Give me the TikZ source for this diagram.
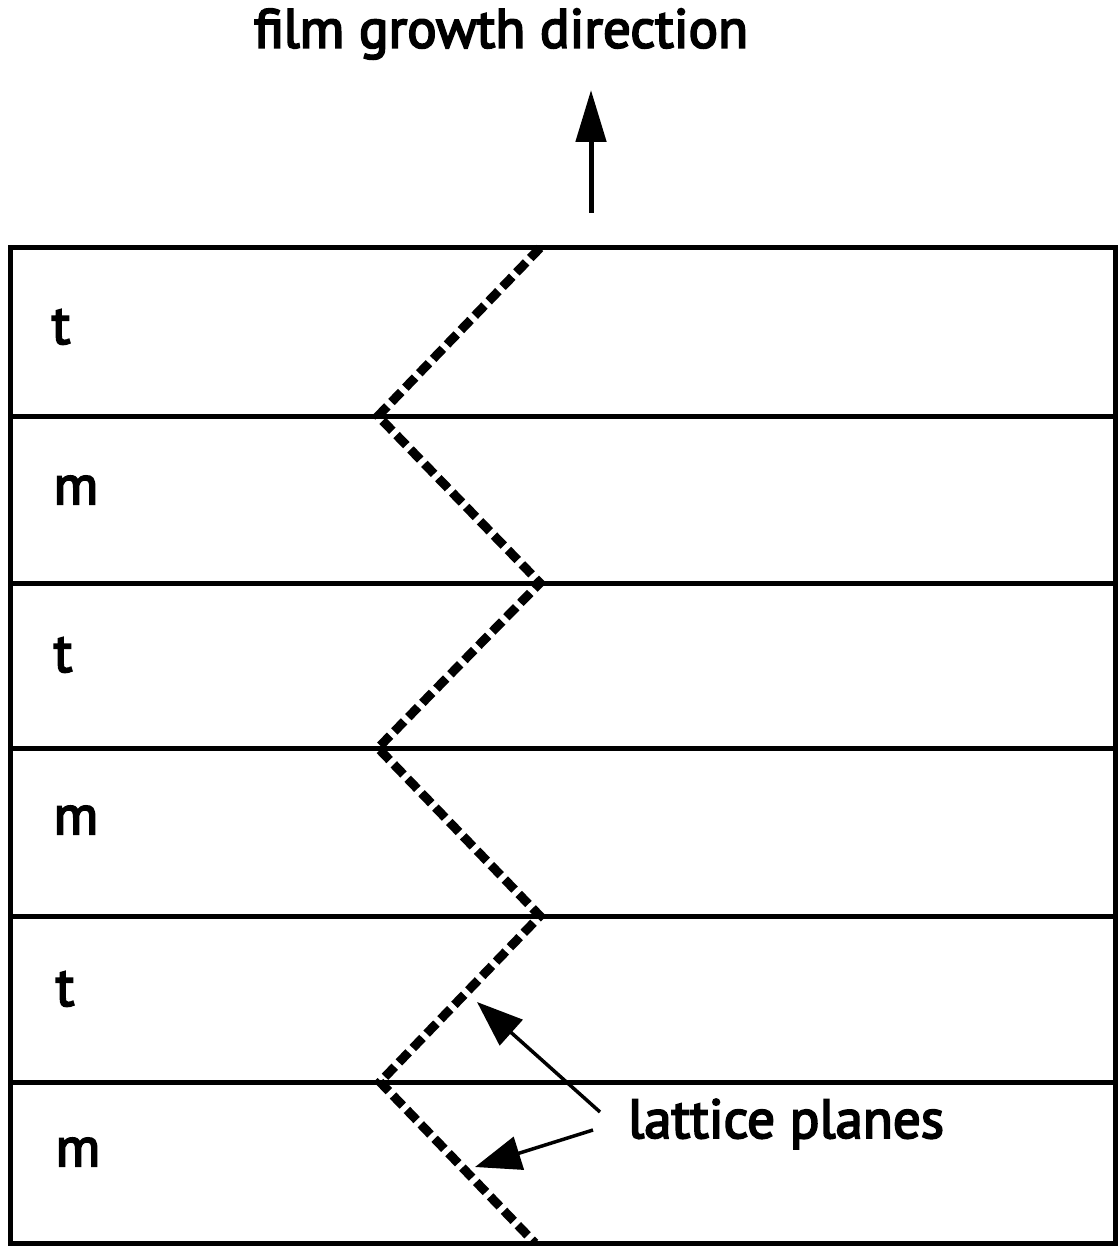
\documentclass[tikz,border=0pt]{standalone}
\usepackage{fontspec}
\setmainfont{PT Sans}[FakeBold=3.5]
\usetikzlibrary{arrows.meta}
\begin{document}
\begin{tikzpicture}[x=1pt,y=-1pt,
  frame/.style={line width=5pt},
  plane/.style={line width=9pt, dash pattern=on 14pt off 6pt},
  lbl/.style={font=\fontsize{55}{60}\selectfont, inner sep=0pt},
  pointer/.style={line width=3.5pt, -{Triangle[length=46pt,width=34pt]}}]
\useasboundingbox (0,0) rectangle (1117,1246);
% layers
\draw[frame] (10,248) rectangle (1115,1243);
\foreach \y in {416,583,748,916,1082} \draw[frame] (10,\y) -- (1115,\y);
% zigzag points
\coordinate (z0) at (540,248);
\coordinate (z1) at (378,416);
\coordinate (z2) at (540,583);
\coordinate (z3) at (378,748);
\coordinate (z4) at (540,916);
\coordinate (z5) at (380,1082);
\coordinate (z6) at (535,1243);
\draw[plane] (z0) -- (z1) -- (z2) -- (z3) -- (z4) -- (z5) -- (z6);
% layer labels
\node[lbl] (l1) at (61,327) {t};
\node[lbl] (l2) at (76,490) {m};
\node[lbl] (l3) at (63,655) {t};
\node[lbl] (l4) at (76,820) {m};
\node[lbl] (l5) at (65,989) {t};
\node[lbl] (l6) at (78,1152) {m};
% growth direction
\node[lbl] (title) at (501,34) {film growth direction};
\coordinate (g0) at (591,213);
\coordinate (g1) at (591,90);
\draw[line width=5pt, -{Triangle[length=52pt,width=30pt]}] (g0) -- (g1);
% lattice planes
\node[lbl, anchor=west] (lp) at (628,1124) {lattice planes};
\coordinate (a0) at (600,1112);
\coordinate (a1) at (477,1002);
\coordinate (b0) at (593,1130);
\coordinate (b1) at (475,1167);
\draw[pointer] (a0) -- (a1);
\draw[pointer] (b0) -- (b1);
\end{tikzpicture}
\end{document}
